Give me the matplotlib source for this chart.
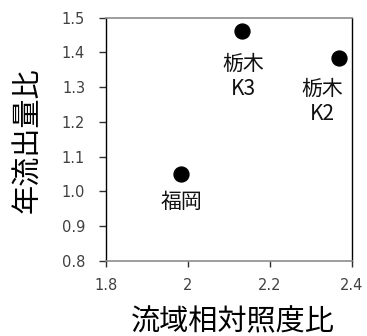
import matplotlib
matplotlib.use("Agg")
import matplotlib.pyplot as plt

plt.rcParams['font.family'] = ['Noto Sans CJK JP', 'DejaVu Sans']

# data
sites = ["福岡", "栃木\nK3", "栃木\nK2"]
light_ratio = [1.983, 2.132, 2.368]
flow_ratio = [1.05, 1.461, 1.383]
label_offsets = [(0, -28), (1, -45), (-17, -43)]  # pixels

x_ticks = [1.8, 2.0, 2.2, 2.4]
x_ticklabels = ["1.8", "2", "2.2", "2.4"]
y_ticks = [0.8, 0.9, 1.0, 1.1, 1.2, 1.3, 1.4, 1.5]
y_ticklabels = ["0.8", "0.9", "1.0", "1.1", "1.2", "1.3", "1.4", "1.5"]

fig = plt.figure(figsize=(3.67, 3.36), dpi=100)
ax = fig.add_axes([106 / 367, 75 / 336, 246 / 367, 243.3 / 336])

ax.scatter(light_ratio, flow_ratio, s=115, color="black", zorder=3,
           clip_on=False)
for name, x, y, (dx, dy) in zip(sites, light_ratio, flow_ratio, label_offsets):
    ax.annotate(name, (x, y), xytext=(dx, dy), textcoords="offset pixels",
                ha="center", va="center", fontsize=15, linespacing=1.15,
                color="#111111")

ax.set_xlim(1.8, 2.4)
ax.set_ylim(0.8, 1.5)
ax.set_xticks(x_ticks)
ax.set_xticklabels(x_ticklabels)
ax.set_yticks(y_ticks)
ax.set_yticklabels(y_ticklabels)
ax.tick_params(axis="both", direction="out", length=5, width=1,
               labelsize=10.5, labelcolor="#404040", color="#303030",
               labelfontfamily="DejaVu Sans")
ax.tick_params(axis="y", pad=10)
ax.tick_params(axis="x", pad=8, length=4)

for side in ["bottom", "top"]:
    ax.spines[side].set_color("#8c8c8c")
    ax.spines[side].set_linewidth(1.2)
for side in ["left", "right"]:
    ax.spines[side].set_color("black")
    ax.spines[side].set_linewidth(1.0)

fig.text(28 / 367, 1 - 140 / 336, "年流出量比", rotation=90,
         ha="center", va="center", fontsize=21)
fig.text(233 / 367, 1 - 322 / 336, "流域相対照度比",
         ha="center", va="center", fontsize=21)

fig.savefig("out.png", dpi=100)
